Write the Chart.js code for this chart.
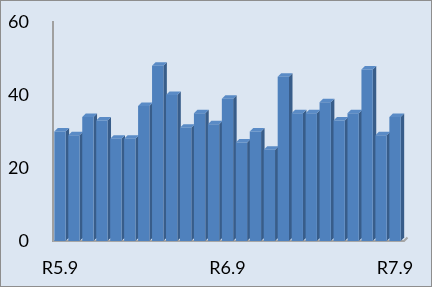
<!DOCTYPE html>
<html>
<head>
<meta charset="utf-8">
<script src="https://cdn.jsdelivr.net/npm/chart.js@4"></script>
<style>
  html,body{margin:0;padding:0;background:#DCE6F2;}
  #c{display:block;}
</style>
</head>
<body>
<canvas id="c" width="432" height="287"></canvas>
<script>
// months R5.9 .. R7.9
const months=['R5.9','R5.10','R5.11','R5.12','R6.1','R6.2','R6.3','R6.4','R6.5','R6.6','R6.7','R6.8',
  'R6.9','R6.10','R6.11','R6.12','R7.1','R7.2','R7.3','R7.4','R7.5','R7.6','R7.7','R7.8','R7.9'];
const counts=[30,29,34,33,28,28,37,48,40,31,35,32,39,27,30,25,45,35,35,38,33,35,47,29,34];
const yTicks=[0,20,40,60];

// background + frame
const frame={
  id:'frame',
  beforeDraw(chart){
    const c=chart.ctx;
    c.save();
    c.fillStyle='#DCE6F2'; c.fillRect(0,0,chart.width,chart.height);
    c.strokeStyle='#8E8E8E'; c.lineWidth=1;
    c.strokeRect(0.5,0.5,chart.width-1,chart.height-1);
    c.restore();
  }
};

// fake 3D: floor, bar sides and tops drawn under the front faces
const depth={
  id:'depth',
  beforeDatasetsDraw(chart){
    const c=chart.ctx, a=chart.chartArea, dx=3.5, dy=3.5;
    c.save();
    // floor
    c.strokeStyle='#A6A6A6'; c.lineWidth=2;
    c.beginPath(); c.moveTo(a.left,a.bottom); c.lineTo(a.right+2,a.bottom); c.lineTo(a.right+2+dx,a.bottom-dy); c.stroke();
    chart.getDatasetMeta(0).data.forEach(b=>{
      const l=b.x-b.width/2, r=b.x+b.width/2;
      c.fillStyle='#385D8A';
      c.beginPath(); c.moveTo(r,b.y); c.lineTo(r+dx,b.y-dy); c.lineTo(r+dx,b.base-dy); c.lineTo(r,b.base); c.closePath(); c.fill();
      c.fillStyle='#5A8BC6';
      c.beginPath(); c.moveTo(l,b.y); c.lineTo(l+dx,b.y-dy); c.lineTo(r+dx,b.y-dy); c.lineTo(r,b.y); c.closePath(); c.fill();
    });
    c.restore();
  }
};

function draw(){
  new Chart(document.getElementById('c'),{
    type:'bar',
    data:{labels:months,datasets:[{data:counts,backgroundColor:'#4F81BD',borderWidth:0,
      barPercentage:0.81,categoryPercentage:1}]},
    options:{
      responsive:false,animation:false,
      layout:{padding:{top:22,right:30,left:0,bottom:0}},
      plugins:{legend:{display:false},tooltip:{enabled:false}},
      scales:{
        x:{
          grid:{display:false,drawTicks:false},
          border:{display:false},
          afterFit(s){ s.height=46; s.paddingLeft=0; s.paddingRight=0; },
          ticks:{autoSkip:false,maxRotation:0,padding:16,color:'#000',
            font:{family:'Lato',size:18},
            callback:(v,i)=> i%12===0 ? months[i] : ''}
        },
        y:{
          min:0,max:60,
          afterFit(s){ s.width=53; s.paddingTop=0; s.paddingBottom=0; },
          afterBuildTicks(s){ s.ticks=yTicks.map(v=>({value:v})); },
          grid:{display:false,drawTicks:false},
          border:{display:true,color:'#A0A0A0',width:2},
          ticks:{padding:24,color:'#000',font:{family:'Lato',size:18}}
        }
      }
    },
    plugins:[frame,depth]
  });
}
document.fonts.load('18px Lato').then(draw,draw);
</script>
</body>
</html>
